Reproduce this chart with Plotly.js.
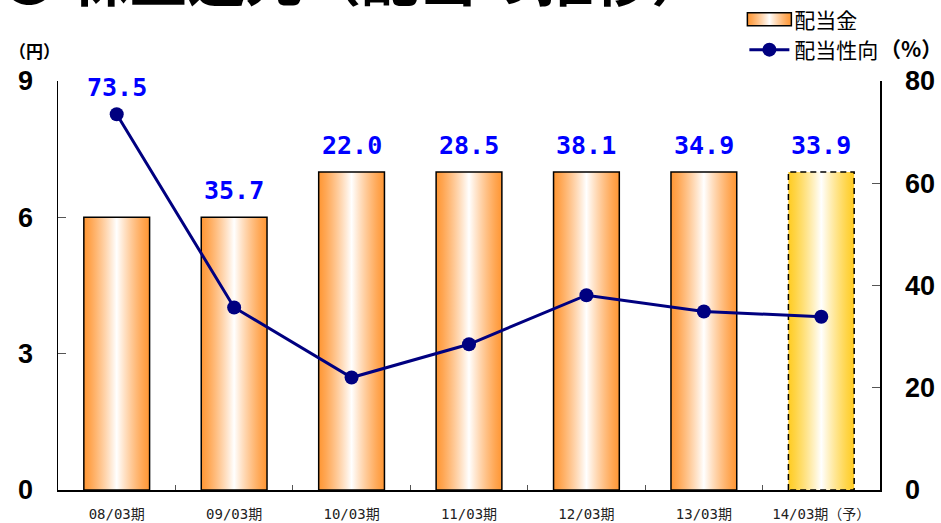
<!DOCTYPE html>
<html>
<head>
<meta charset="utf-8">
<script src="https://cdn.plot.ly/plotly-3.0.1.min.js"></script>
<style>body{margin:0;padding:0;background:#fff;} #chart{width:941px;height:523px;}</style>
</head>
<body>
<div id="chart"></div>
<script>
const categories = ["08/03期", "09/03期", "10/03期", "11/03期", "12/03期", "13/03期", "14/03期（予）"];
const dividend = [6, 6, 7, 7, 7, 7, 7];
const payoutRatio = [73.5, 35.7, 22.0, 28.5, 38.1, 34.9, 33.9];
const payoutLabels = ["73.5", "35.7", "22.0", "28.5", "38.1", "34.9", "33.9"];
const leftTicks = [0, 3, 6, 9];
const rightTicks = [0, 20, 40, 60, 80];

const Y1MAX = 9, Y2MAX = 80;

const barTrace = {
  type: 'bar', x: categories, y: dividend, name: '配当金', yaxis: 'y', legendgroup: 'a',
  width: 0.56,
  marker: {
    color: dividend.map((v, i) => i === dividend.length - 1 ? '#FFD040' : '#FFA858'),
    line: { color: '#000', width: 1.5 }
  },
  hoverinfo: 'skip'
};
const lineTrace = {
  type: 'scatter', mode: 'lines+markers', x: categories, y: payoutRatio, name: '配当性向', yaxis: 'y2', legendgroup: 'b',
  line: { color: '#000080', width: 3 },
  marker: { color: '#000080', size: 14 },
  hoverinfo: 'skip'
};

const annotations = categories.map((c, i) => ({
  x: c, xref: 'x', yref: 'y2',
  y: Math.max(payoutRatio[i], dividend[i] * Y2MAX / Y1MAX),
  text: payoutLabels[i], showarrow: false, yanchor: 'bottom', yshift: 10,
  font: { family: 'DejaVu Sans Mono', size: 25, color: '#0000FF', weight: 'bold' }
}));
annotations.push({
  xref: 'paper', yref: 'paper', x: -0.062, y: 1.04, xanchor: 'left', yanchor: 'bottom',
  text: '<b>（円）</b>', showarrow: false,
  font: { family: 'Noto Sans CJK JP', size: 17, color: '#000' }
});
annotations.push({
  xref: 'paper', yref: 'paper', x: 1.078, y: 1.04, xanchor: 'right', yanchor: 'bottom',
  text: '<b>（%）</b>', showarrow: false,
  font: { family: 'Noto Sans CJK JP', size: 21, color: '#000' }
});

const tickFont = { family: 'Liberation Sans Narrow, Liberation Sans, Arial', size: 27, color: '#000', weight: 'bold' };

const layout = {
  width: 941, height: 523,
  margin: { l: 58, r: 61, t: 81, b: 33, autoexpand: false },
  paper_bgcolor: '#fff', plot_bgcolor: '#fff',
  title: {
    text: '<b>● 株主還元（配当の推移）</b>',
    xref: 'container', yref: 'container', x: 0, xanchor: 'left', y: 0.985, yanchor: 'bottom',
    font: { family: 'Noto Sans CJK JP', size: 58, color: '#000' }
  },
  showlegend: true,
  legend: {
    x: 0.835, y: 1.2, xanchor: 'left', yanchor: 'top',
    font: { family: 'Noto Sans CJK JP', size: 21, color: '#000' },
    bgcolor: 'rgba(0,0,0,0)', tracegroupgap: 0, traceorder: 'grouped', itemwidth: 40
  },
  xaxis: {
    type: 'category', showline: true, linecolor: '#000', linewidth: 2,
    ticks: 'inside', tickson: 'boundaries', ticklen: 5, tickcolor: '#555',
    tickfont: { family: 'DejaVu Sans Mono, Noto Sans CJK JP', size: 14, color: '#222' },
    ticklabelstandoff: 10,
    showgrid: false, zeroline: false, fixedrange: true
  },
  yaxis: {
    range: [0, Y1MAX], tickvals: leftTicks, ticktext: leftTicks.map(String),
    showline: true, linecolor: '#000', linewidth: 1.5,
    ticks: 'inside', ticklen: 8, tickcolor: '#555',
    tickfont: tickFont, ticklabelstandoff: 18,
    showgrid: false, zeroline: false, fixedrange: true
  },
  yaxis2: {
    range: [0, Y2MAX], tickvals: rightTicks, ticktext: rightTicks.map(String),
    overlaying: 'y', side: 'right',
    showline: true, linecolor: '#000', linewidth: 1.5,
    ticks: 'inside', ticklen: 8, tickcolor: '#555',
    tickfont: tickFont, ticklabelstandoff: 18,
    showgrid: false, zeroline: false, fixedrange: true
  },
  annotations: annotations
};

function addGradient(svg, id, edge) {
  const ns = 'http://www.w3.org/2000/svg';
  let defs = svg.querySelector('defs');
  if (!defs) { defs = document.createElementNS(ns, 'defs'); svg.insertBefore(defs, svg.firstChild); }
  const g = document.createElementNS(ns, 'linearGradient');
  g.setAttribute('id', id);
  g.setAttribute('x1', '0'); g.setAttribute('x2', '1'); g.setAttribute('y1', '0'); g.setAttribute('y2', '0');
  [[0, edge, 1], [0.1, edge, 0.85], [0.5, '#FFFFFF', 1], [0.9, edge, 0.85], [1, edge, 1]].forEach(([o, c, op]) => {
    const s = document.createElementNS(ns, 'stop');
    s.setAttribute('offset', o);
    s.setAttribute('stop-color', c);
    s.setAttribute('stop-opacity', op);
    g.appendChild(s);
  });
  defs.appendChild(g);
}

Plotly.newPlot('chart', [barTrace, lineTrace], layout, { displayModeBar: false, staticPlot: true }).then(gd => {
  const svg = gd.querySelector('svg.main-svg');
  addGradient(svg, 'gradOrange', '#FF9633');
  addGradient(svg, 'gradYellow', '#FFCC22');
  const bars = gd.querySelectorAll('.barlayer .point path');
  bars.forEach((p, i) => {
    p.style.fill = i === bars.length - 1 ? 'url(#gradYellow)' : 'url(#gradOrange)';
    if (i === bars.length - 1) p.style.strokeDasharray = '6,4';
  });
  const lp = gd.querySelectorAll('.legend .traces')[0];
  if (lp) {
    const path = lp.querySelector('.legendpoints path');
    if (path) {
      path.setAttribute('d', 'M-22,6.5H22V-6.5H-22Z');
      path.style.fill = 'url(#gradOrange)';
      path.style.stroke = '#000';
      path.style.strokeWidth = '1.5px';
    }
  }
  // Lift the oversized title so that only its lower edge shows, as in the reference
  const t = gd.querySelector('.gtitle');
  if (t) {
    const bb = t.getBBox();
    const bottom = bb.y + bb.height;
    const shift = 18 - bottom;
    const prev = t.getAttribute('transform') || '';
    t.setAttribute('transform', 'translate(0,' + shift + ') ' + prev);
  }
});
</script>
</body>
</html>
